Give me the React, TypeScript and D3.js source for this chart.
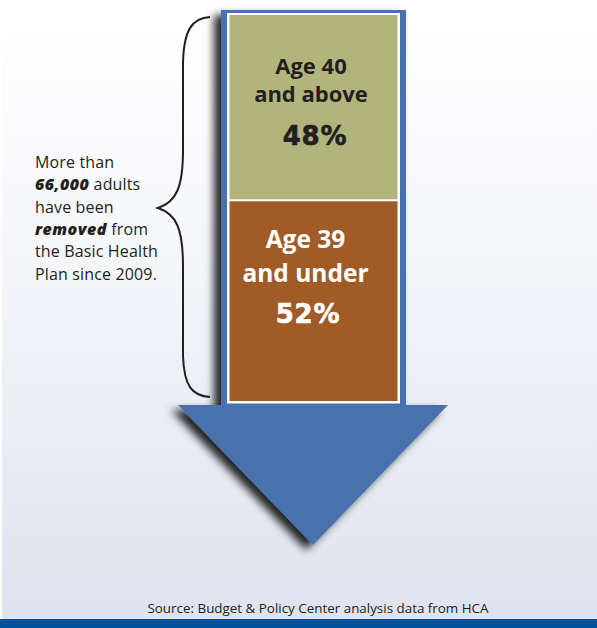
import React from "react";
import * as d3 from "d3";

const categories = ["Age 40 and above", "Age 39 and under"];
const labelLines = [
  ["Age 40", "and above"],
  ["Age 39", "and under"],
];
const values = [48, 52];
const noteLines = [
  [{ t: "More than", b: false }],
  [{ t: "66,000", b: true }, { t: " adults", b: false }],
  [{ t: "have been", b: false }],
  [{ t: "removed", b: true }, { t: " from", b: false }],
  [{ t: "the Basic Health", b: false }],
  [{ t: "Plan since 2009.", b: false }],
];
const sourceText = "Source: Budget & Policy Center analysis data from HCA";

const W = 597;
const H = 628;
const FONT = "'Open Sans', 'Noto Sans', sans-serif";

export default function App() {
  const y = d3.scaleLinear().domain([0, 100]).range([15, 401]);
  const ends = Array.from(d3.cumsum(values));
  const starts = ends.map((e, i) => e - values[i]);
  const fills = ["#b1b57b", "#a15b27"];
  const textFills = ["#231f20", "#ffffff"];
  const fontSizes = [22, 24.5];
  const lineOffsets = [
    [59, 87, 130],
    [48, 82, 123],
  ];
  const labelDx = [-2.5, -8];
  const pctDx = [1.5, -5.5];

  const shaftL = 221, shaftR = 406, shaftTop = 10, shaftBot = 405;
  const arrowPath = d3.path();
  arrowPath.moveTo(shaftL, shaftTop);
  arrowPath.lineTo(shaftR, shaftTop);
  arrowPath.lineTo(shaftR, shaftBot);
  arrowPath.lineTo(448, shaftBot);
  arrowPath.lineTo(313, 545);
  arrowPath.lineTo(178, shaftBot);
  arrowPath.lineTo(shaftL, shaftBot);
  arrowPath.closePath();

  const brace =
    "M 210 17 C 192 18 184 30 183 62 L 183 150 C 183 188 176 202 158 208 C 176 214 183 228 183 266 L 183 356 C 184 386 192 396 210 397";

  const cx = (229.5 + 397.5) / 2;

  return (
    <svg
      width={W}
      height={H}
      style={{ position: "absolute", left: 0, top: 0 }}
      fontFamily={FONT}
    >
      <defs>
        <linearGradient id="bg" x1="0" y1="0" x2="0" y2="1">
          <stop offset="0%" stopColor="#ffffff" />
          <stop offset="35%" stopColor="#f7f8fb" />
          <stop offset="100%" stopColor="#dee3ef" />
        </linearGradient>
        <filter id="shadow" x="-20%" y="-20%" width="140%" height="140%">
          <feDropShadow dx={-7} dy={5} stdDeviation={4.5} floodColor="#000" floodOpacity={0.85} />
        </filter>
      </defs>
      <rect x={0} y={0} width={W} height={H} fill="#ffffff" />
      <rect x={2} y={0} width={W - 2} height={619} fill="url(#bg)" />
      <rect x={0} y={619} width={W} height={9} fill="#00539b" />

      <path d={arrowPath.toString()} fill="#4672ab" filter="url(#shadow)" />
      <rect x={227} y={13} width={173} height={390.5} fill="#ffffff" />
      {values.map((v, i) => {
        const top = y(starts[i]) + (i === 0 ? 0 : 1);
        const bot = y(ends[i]) - (i === 0 ? 1 : 0);
        return (
          <g key={categories[i]}>
            <rect x={229.5} y={top} width={168} height={bot - top} fill={fills[i]} />
            {labelLines[i].map((ln, j) => (
              <text
                key={j}
                x={cx + labelDx[i]}
                y={y(starts[i]) + lineOffsets[i][j]}
                textAnchor="middle"
                fontSize={fontSizes[i]}
                fontWeight={700}
                fill={textFills[i]}
              >
                {ln}
              </text>
            ))}
            <text
              x={cx + pctDx[i]}
              y={y(starts[i]) + lineOffsets[i][2]}
              textAnchor="middle"
              fontSize={26}
              fontWeight={700}
              fontFamily="'DejaVu Sans', sans-serif"
              letterSpacing={0.8}
              fill={textFills[i]}
              stroke={textFills[i]}
              strokeWidth={0.6}
            >
              {`${v}%`}
            </text>
          </g>
        );
      })}

      <path d={brace} fill="none" stroke="#231f20" strokeWidth={2} />

      {noteLines.map((parts, i) => (
        <text key={i} x={35} y={168 + i * 22.3} fontSize={16} letterSpacing={0.15} fill="#231f20">
          {parts.map((p, k) => (
            <tspan
              key={k}
              fontWeight={p.b ? 800 : 400}
              fontStyle={p.b ? "italic" : "normal"}
              fontSize={16}
              letterSpacing={p.b ? 0.5 : 0.15}
            >
              {p.t}
            </tspan>
          ))}
        </text>
      ))}

      <text x={318} y={613} textAnchor="middle" fontSize={13.4} fill="#231f20">
        {sourceText}
      </text>
    </svg>
  );
}
